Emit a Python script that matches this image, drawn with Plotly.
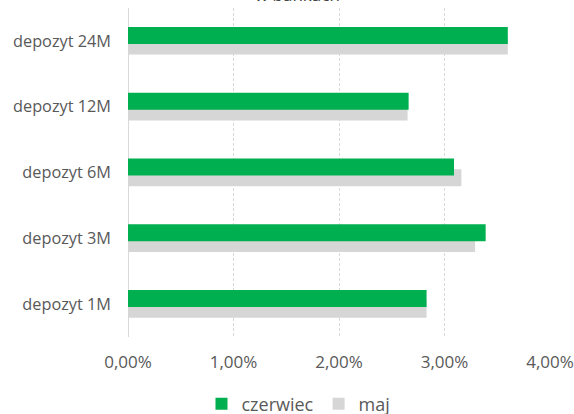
import plotly.graph_objects as go

categories = ["depozyt 1M", "depozyt 3M", "depozyt 6M", "depozyt 12M", "depozyt 24M"]
czerwiec = [0.0283, 0.0339, 0.0309, 0.0266, 0.0360]
maj = [0.0283, 0.0329, 0.0316, 0.0265, 0.0360]
x_ticks = [0, 0.01, 0.02, 0.03, 0.04]
x_tick_labels = ["0,00%", "1,00%", "2,00%", "3,00%", "4,00%"]

W, H = 574, 414
ml, mr, mt, mb = 128, 24, 8, 77
cat_px = (H - mt - mb) / len(categories)

fig = go.Figure()
fig.add_trace(go.Bar(
    y=categories, x=maj, orientation="h", name="maj",
    marker=dict(color="#D6D6D6", line=dict(width=0)),
    offset=-13.7 / cat_px, width=17 / cat_px, legendrank=2,
))
fig.add_trace(go.Bar(
    y=categories, x=czerwiec, orientation="h", name="czerwiec",
    marker=dict(color="#00B050", line=dict(width=0)),
    offset=-3 / cat_px, width=17 / cat_px, legendrank=1,
))

fig.update_layout(
    width=W, height=H,
    margin=dict(l=ml, r=mr, t=mt, b=mb, autoexpand=False),
    barmode="overlay",
    paper_bgcolor="white", plot_bgcolor="white",
    font=dict(family="Open Sans, Liberation Sans, sans-serif", color="#595959", size=15),
    showlegend=True,
    legend=dict(orientation="h", x=0.52, xanchor="center", xref="container",
                y=(H - 404) / H, yanchor="middle", yref="container",
                font=dict(size=18, color="#595959"),
                itemwidth=30, traceorder="normal", bgcolor="rgba(0,0,0,0)"),
    xaxis=dict(range=[0, 0.04], tickvals=x_ticks, ticktext=x_tick_labels,
               showgrid=True, gridcolor="#D9D9D9", griddash="3px,2px", gridwidth=1,
               zeroline=False, showline=False, ticks="", ticklabelstandoff=13,
               tickfont=dict(size=17),
               automargin=False, fixedrange=True),
    yaxis=dict(categoryorder="array", categoryarray=categories,
               range=[-0.5, len(categories) - 0.5],
               showgrid=False, zeroline=False, showline=False, ticks="",
               tickfont=dict(size=16.3),
               ticklabelstandoff=16, automargin=False, fixedrange=True),
    shapes=[dict(type="line", xref="x", yref="paper", x0=0, x1=0, y0=0, y1=1,
                 line=dict(color="#D9D9D9", width=2), layer="below")],
    annotations=[dict(text="w bankach", xref="paper", yref="paper",
                      x=(297 - ml) / (W - ml - mr), y=1.0,
                      xanchor="center", yanchor="bottom", showarrow=False,
                      font=dict(size=17, color="#404040"))],
)

fig.write_html("out.html")
